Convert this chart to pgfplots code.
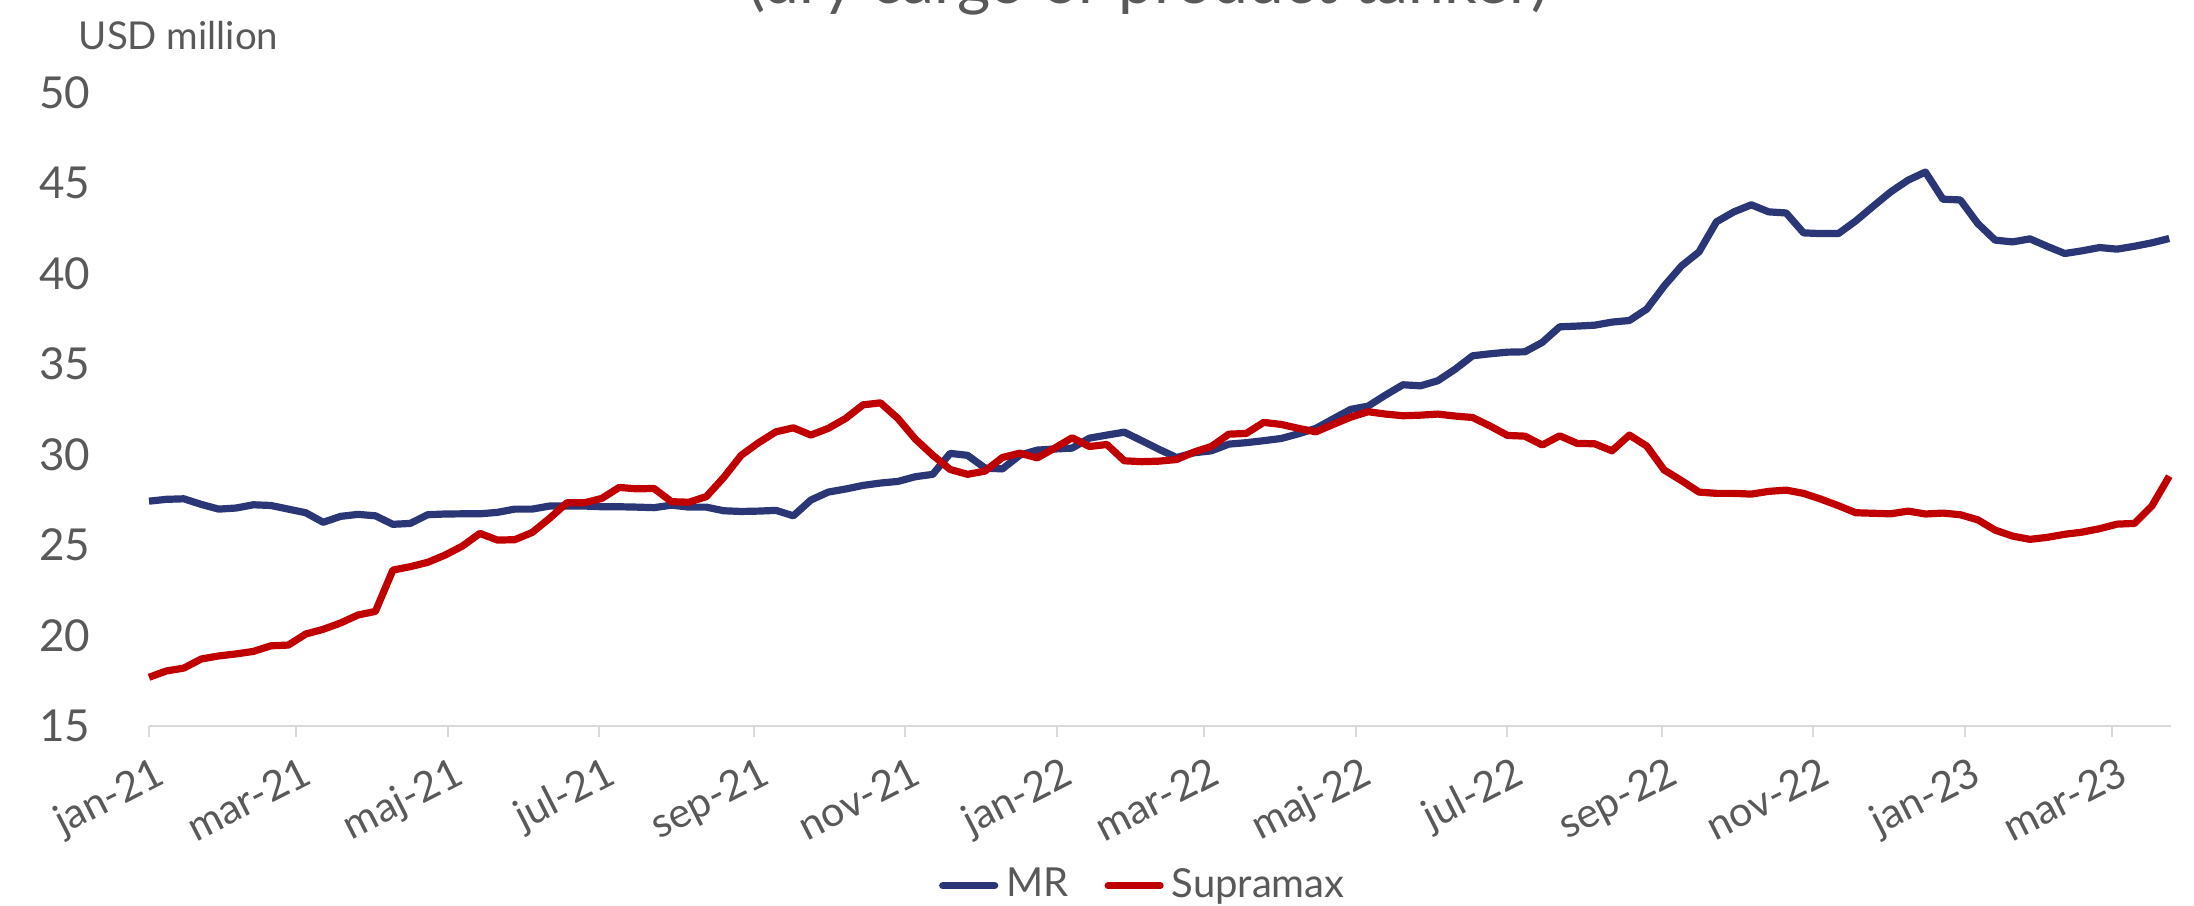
\documentclass[border=0pt]{standalone}
\usepackage{pgfplots}
\pgfplotsset{compat=1.18}
\usepackage{pgfplotstable}
\usepackage{fontspec}
\setmainfont{Lato}
\definecolor{mrblue}{RGB}{42,54,118}
\definecolor{supred}{RGB}{192,0,0}
\definecolor{txtgray}{RGB}{89,89,89}
\definecolor{axgray}{RGB}{217,217,217}

\pgfplotstableread{
i MR Sup
0 27.42 17.69
1 27.52 18.04
2 27.55 18.20
3 27.24 18.70
4 26.98 18.87
5 27.04 18.98
6 27.22 19.12
7 27.18 19.43
8 26.98 19.47
9 26.78 20.08
10 26.25 20.34
11 26.58 20.69
12 26.69 21.13
13 26.61 21.33
14 26.14 23.61
15 26.19 23.80
16 26.67 24.04
17 26.71 24.44
18 26.72 24.94
19 26.72 25.64
20 26.80 25.27
21 26.98 25.29
22 26.98 25.69
23 27.15 26.47
24 27.15 27.33
25 27.15 27.33
26 27.11 27.57
27 27.11 28.18
28 27.09 28.10
29 27.06 28.12
30 27.20 27.39
31 27.09 27.36
32 27.09 27.67
33 26.89 28.73
34 26.85 29.95
35 26.87 30.65
36 26.91 31.25
37 26.61 31.47
38 27.48 31.07
39 27.92 31.44
40 28.09 31.99
41 28.29 32.74
42 28.42 32.85
43 28.51 31.99
44 28.77 30.85
45 28.90 29.96
46 30.06 29.17
47 29.95 28.90
48 29.25 29.08
49 29.20 29.83
50 29.96 30.07
51 30.24 29.81
52 30.30 30.35
53 30.35 30.92
54 30.90 30.44
55 31.07 30.55
56 31.23 29.65
57 30.76 29.60
58 30.28 29.63
59 29.83 29.72
60 30.09 30.13
61 30.20 30.44
62 30.57 31.12
63 30.65 31.16
64 30.76 31.77
65 30.88 31.66
66 31.14 31.44
67 31.44 31.25
68 31.97 31.66
69 32.49 32.06
70 32.67 32.36
71 33.28 32.23
72 33.85 32.14
73 33.79 32.17
74 34.07 32.23
75 34.71 32.12
76 35.45 32.04
77 35.56 31.57
78 35.65 31.05
79 35.67 31.01
80 36.19 30.52
81 37.05 31.03
82 37.09 30.61
83 37.14 30.59
84 37.31 30.20
85 37.40 31.07
86 38.03 30.46
87 39.31 29.14
88 40.42 28.55
89 41.19 27.92
90 42.85 27.85
91 43.40 27.85
92 43.79 27.81
93 43.40 27.96
94 43.34 28.03
95 42.24 27.85
96 42.20 27.53
97 42.20 27.17
98 42.90 26.78
99 43.71 26.75
100 44.50 26.72
101 45.15 26.87
102 45.60 26.71
103 44.10 26.76
104 44.06 26.67
105 42.76 26.39
106 41.84 25.82
107 41.74 25.49
108 41.91 25.31
109 41.49 25.42
110 41.10 25.59
111 41.25 25.71
112 41.43 25.90
113 41.34 26.15
114 41.50 26.19
115 41.69 27.15
116 41.93 28.80
}\datatable

\begin{document}
\begin{tikzpicture}
\useasboundingbox (0,0) rectangle (548.5pt,226.5pt);
\begin{scope}
\clip (0,0) rectangle (548.5pt,226.5pt);
\node[anchor=base, text=txtgray, font=\fontsize{16}{19}\selectfont] at (287pt,225.5pt) {(dry cargo or product tanker)};
\end{scope}
\node[anchor=west, inner sep=0pt, text=txtgray, font=\fontsize{9.6}{12}\selectfont] at (19.5pt,217.5pt) {USD million};
\begin{axis}[
  at={(37.25pt,45pt)}, anchor=south west,
  width=505.5pt, height=158.4pt, scale only axis,
  xmin=0, xmax=116.1, ymin=15, ymax=50,
  axis x line*=bottom, axis y line*=left,
  y axis line style={draw=none},
  x axis line style={draw=axgray, line width=0.5pt},
  ytick={15,20,...,50},
  ytick style={draw=none},
  yticklabel style={anchor=east, xshift=-8.4pt, text=txtgray, font=\fontsize{11}{13}\selectfont},
  xtick={0,8.43,17.14,25.86,34.71,43.43,52.14,60.57,69.29,78,86.86,95.57,104.29,112.71},
  xticklabels={jan-21,mar-21,maj-21,jul-21,sep-21,nov-21,jan-22,mar-22,maj-22,jul-22,sep-22,nov-22,jan-23,mar-23},
  tick align=outside,
  major tick length=2.7pt,
  xtick style={draw=axgray, line width=0.5pt},
  xticklabel style={rotate=27, anchor=north east, yshift=-3.5pt, text=txtgray, font=\fontsize{10.3}{12}\selectfont, inner sep=1pt},
  /pgf/number format/assume math mode=true,
  legend style={at={(0.493,-0.252)}, anchor=center, draw=none, fill=none,
    legend columns=2, font=\fontsize{10}{12}\selectfont, text=txtgray,
    /tikz/every even column/.append style={column sep=7pt}},
  legend cell align=left,
  legend image code/.code={\draw[#1, line cap=round] (0pt,0pt) -- (13pt,0pt);},
  clip=false,
]
\addplot[mrblue, line width=1.8pt, line join=round] table[x=i, y=MR] {\datatable};
\addlegendentry{MR}
\addplot[supred, line width=1.8pt, line join=round] table[x=i, y=Sup] {\datatable};
\addlegendentry{Supramax}
\end{axis}
\end{tikzpicture}
\end{document}
